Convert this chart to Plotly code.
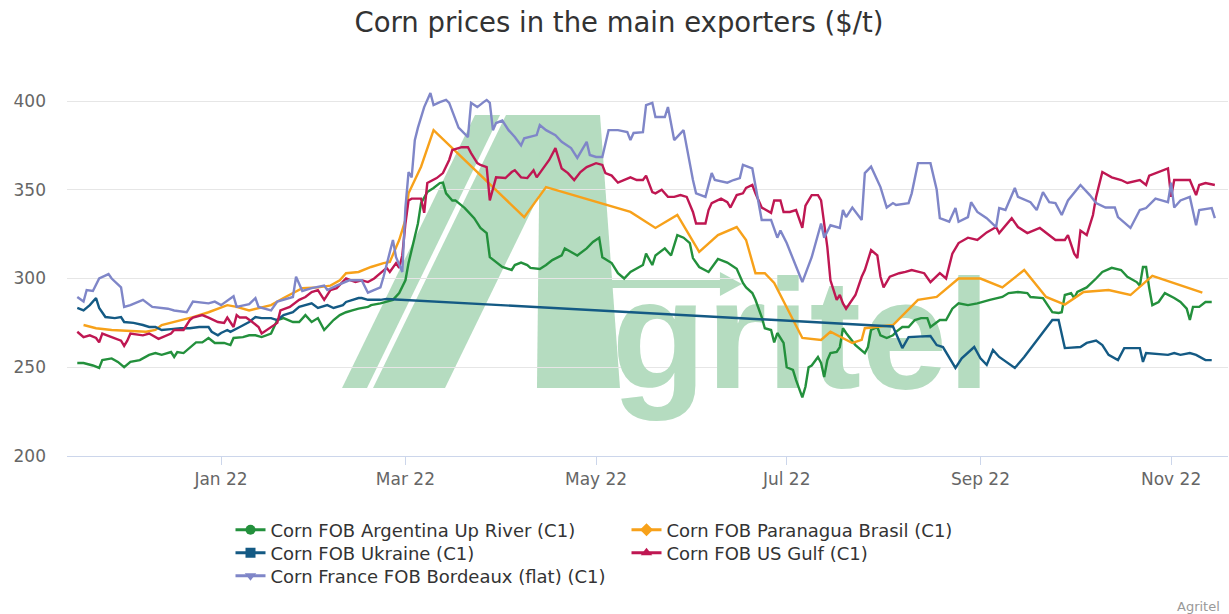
import plotly.graph_objects as go

# ---------------- data ----------------
arg_dates = ["2021-11-16","2021-11-18","2021-11-21","2021-11-23","2021-11-24","2021-11-27","2021-11-29","2021-12-01","2021-12-03","2021-12-06",
"2021-12-09","2021-12-11","2021-12-13","2021-12-16","2021-12-17","2021-12-18","2021-12-20","2021-12-23","2021-12-24","2021-12-26",
"2021-12-28","2021-12-30","2022-01-02","2022-01-04","2022-01-05","2022-01-08","2022-01-10","2022-01-12","2022-01-14","2022-01-17",
"2022-01-18","2022-01-19","2022-01-21","2022-01-24","2022-01-26","2022-01-28","2022-01-30","2022-02-01","2022-02-03","2022-02-04",
"2022-02-06","2022-02-08","2022-02-10","2022-02-12","2022-02-14","2022-02-17","2022-02-18","2022-02-21","2022-02-23","2022-02-25",
"2022-02-27","2022-03-01","2022-03-02","2022-03-03","2022-03-05","2022-03-06","2022-03-08","2022-03-10","2022-03-12","2022-03-13",
"2022-03-14","2022-03-16","2022-03-17","2022-03-20","2022-03-23","2022-03-25","2022-03-27","2022-03-28","2022-03-30","2022-04-01",
"2022-04-04","2022-04-05","2022-04-07","2022-04-09","2022-04-10","2022-04-13","2022-04-15","2022-04-17","2022-04-20","2022-04-21",
"2022-04-24","2022-04-25","2022-04-28","2022-04-30","2022-05-02","2022-05-03","2022-05-06","2022-05-08","2022-05-10","2022-05-12",
"2022-05-16","2022-05-17","2022-05-19","2022-05-20","2022-05-23","2022-05-25","2022-05-27","2022-05-29","2022-05-31","2022-06-01",
"2022-06-03","2022-06-06","2022-06-09","2022-06-12","2022-06-15","2022-06-17","2022-06-18","2022-06-20","2022-06-21","2022-06-23",
"2022-06-24","2022-06-26","2022-06-27","2022-06-28","2022-06-30","2022-07-01","2022-07-03","2022-07-04","2022-07-06","2022-07-07",
"2022-07-08","2022-07-09","2022-07-11","2022-07-12","2022-07-13","2022-07-14","2022-07-15","2022-07-17","2022-07-18","2022-07-19",
"2022-07-20","2022-07-22","2022-07-23","2022-07-26","2022-07-27","2022-07-28","2022-07-30","2022-07-31","2022-08-02","2022-08-04",
"2022-08-05","2022-08-07","2022-08-09","2022-08-11","2022-08-13","2022-08-15","2022-08-16","2022-08-19","2022-08-21","2022-08-23",
"2022-08-25","2022-08-28","2022-08-31","2022-09-04","2022-09-08","2022-09-10","2022-09-13","2022-09-16","2022-09-17","2022-09-21",
"2022-09-23","2022-09-24","2022-09-26","2022-09-27","2022-09-28","2022-09-30","2022-10-01","2022-10-02","2022-10-05","2022-10-07",
"2022-10-08","2022-10-10","2022-10-13","2022-10-16","2022-10-18","2022-10-21","2022-10-22","2022-10-23","2022-10-24","2022-10-25",
"2022-10-26","2022-10-28","2022-10-30","2022-11-02","2022-11-04","2022-11-06","2022-11-07","2022-11-08","2022-11-10","2022-11-12",
"2022-11-14"]
arg_values = [252.4,252.4,251,249.6,254,255,253,250,253,254,
257,258,257,258.6,255.8,258.6,258,262.5,264,264,
266.5,263.7,263.7,262.5,266.5,267,268,268,267,269,
272.7,276.6,277.7,275.5,275.5,279.4,275.5,277.7,271,272.7,
276.6,279.4,281,282,283,284,285,286,286.8,288,
291.8,299,308.7,316,331,342.5,348.7,351,353.8,354,
348,344,344,339.7,334,328.5,325.6,312,309,306.5,
304.8,307.6,309,307.6,306,305.4,307.6,310.4,313,317,
314,313,317,320.6,323,312,308.7,303,300,303.7,
307.6,314,307.6,313,317,313,324.5,323,320,311.5,
306.5,303.7,311,309,305.5,297.5,295,291.8,288,278.3,
272,271,264,269.3,263.7,250,248.5,242.8,233,239,
250,251,255.8,252.4,244.5,254,258,258.6,261.4,272,
269.3,265,262.5,258,261.4,271,272.7,268,266.5,268,
270,272.7,272.7,276.6,277.7,277.7,272.7,276.6,276.6,283,
286,285,286,288,289.6,291.8,292.4,291.8,289.6,289,
284,281,280.6,281,290.7,291.8,289,292.4,295,298,
300,303.7,306,304.8,301,298,296,306.5,306.5,294.6,
285,286.8,291.8,289,286.8,283,276.6,284,284,286.8,
286.8]

bra_dates = ["2021-11-18","2021-11-22","2021-11-27","2021-12-02","2021-12-08","2021-12-11","2021-12-13","2021-12-23","2021-12-28","2022-01-03",
"2022-01-06","2022-01-10","2022-01-13","2022-01-17","2022-01-21","2022-01-24","2022-01-27","2022-02-01","2022-02-05","2022-02-08",
"2022-02-10","2022-02-14","2022-02-18","2022-02-22","2022-02-24","2022-02-27","2022-03-01","2022-03-02","2022-03-06","2022-03-10",
"2022-04-08","2022-04-15","2022-05-12","2022-05-20","2022-05-27","2022-06-03","2022-06-09","2022-06-15","2022-06-18","2022-06-21",
"2022-06-24","2022-06-27","2022-07-06","2022-07-12","2022-07-15","2022-07-22","2022-07-25","2022-07-26","2022-08-04","2022-08-12",
"2022-08-18","2022-08-25","2022-09-01","2022-09-08","2022-09-15","2022-09-22","2022-09-28","2022-10-04","2022-10-12","2022-10-19",
"2022-10-26","2022-11-11"]
bra_values = [273.8,272,271,270.4,270,271,273.8,278.3,281,285,
284,282,283.4,285,289,291.8,294.6,295,296,299,
303,303.7,306.5,308.7,309.3,321.7,333,348,363,383.6,
334.6,351.5,337.5,328.5,335.8,315,324.5,329,321.7,303,
303,297.5,266.5,265.4,270,263.7,265.4,272,273.8,288,
289.6,300,300,295,304.8,289.6,285.3,292.4,293.5,290.7,
301.5,292]

ukr_dates = ["2021-11-16","2021-11-18","2021-11-20","2021-11-22","2021-11-23","2021-11-25","2021-11-28","2021-11-30","2021-12-01","2021-12-04",
"2021-12-07","2021-12-09","2021-12-11","2021-12-13","2021-12-16","2021-12-19","2021-12-22","2021-12-25","2021-12-28","2021-12-29",
"2021-12-31","2022-01-01","2022-01-03","2022-01-04","2022-01-07","2022-01-10","2022-01-12","2022-01-14","2022-01-17","2022-01-19",
"2022-01-21","2022-01-24","2022-01-26","2022-01-28","2022-01-30","2022-02-01","2022-02-04","2022-02-06","2022-02-09","2022-02-10",
"2022-02-12","2022-02-14","2022-02-15","2022-02-17","2022-02-21","2022-02-23","2022-08-04","2022-08-07","2022-08-09","2022-08-16",
"2022-08-18","2022-08-20","2022-08-24","2022-08-26","2022-08-30","2022-09-01","2022-09-03","2022-09-05","2022-09-07","2022-09-12",
"2022-09-15","2022-09-24","2022-09-26","2022-09-28","2022-10-03","2022-10-05","2022-10-08","2022-10-10","2022-10-12","2022-10-15",
"2022-10-17","2022-10-22","2022-10-23","2022-10-24","2022-10-31","2022-11-02","2022-11-04","2022-11-07","2022-11-09","2022-11-12",
"2022-11-14"]
ukr_values = [283.4,282,285,289,283.4,278.3,277.7,278.3,275.5,275,
273.8,272.7,272.7,271,271.5,272,272,272.7,272.7,270,
268,269.3,271,270,272.7,275.5,278.3,277.7,277.7,276.6,
279.4,281,284,285,286,283.4,285,283.4,285,286.8,
288,289,289,288,288,288.5,273,260.8,267,267.6,
262.5,261.4,249.6,255,261.4,255,251.3,259.7,255.8,249.6,
255.8,276.6,276.6,260.8,261.4,263.7,265,262.5,257,254,
260.8,260.8,253,258,257,258,257,258,257,254,
254]

usg_dates = ["2021-11-16","2021-11-18","2021-11-20","2021-11-22","2021-11-23","2021-11-24","2021-11-27","2021-11-30","2021-12-01","2021-12-02",
"2021-12-03","2021-12-07","2021-12-09","2021-12-12","2021-12-16","2021-12-17","2021-12-20","2021-12-22","2021-12-23","2021-12-26",
"2021-12-28","2021-12-31","2022-01-02","2022-01-03","2022-01-05","2022-01-06","2022-01-07","2022-01-09","2022-01-11","2022-01-13",
"2022-01-14","2022-01-17","2022-01-19","2022-01-20","2022-01-23","2022-01-26","2022-01-28","2022-01-30","2022-02-01","2022-02-03",
"2022-02-05","2022-02-07","2022-02-09","2022-02-10","2022-02-13","2022-02-15","2022-02-17","2022-02-19","2022-02-21","2022-02-23",
"2022-02-24","2022-02-26","2022-02-27","2022-02-28","2022-03-01","2022-03-02","2022-03-03","2022-03-06","2022-03-07","2022-03-08",
"2022-03-11","2022-03-13","2022-03-15","2022-03-16","2022-03-19","2022-03-21","2022-03-22","2022-03-24","2022-03-25","2022-03-27",
"2022-03-28","2022-03-30","2022-04-02","2022-04-04","2022-04-05","2022-04-07","2022-04-09","2022-04-11","2022-04-12","2022-04-14",
"2022-04-16","2022-04-18","2022-04-20","2022-04-22","2022-04-24","2022-04-26","2022-04-28","2022-05-01","2022-05-03","2022-05-04",
"2022-05-06","2022-05-08","2022-05-11","2022-05-12","2022-05-14","2022-05-16","2022-05-17","2022-05-19","2022-05-20","2022-05-22",
"2022-05-24","2022-05-26","2022-05-28","2022-05-30","2022-06-01","2022-06-02","2022-06-05","2022-06-06","2022-06-07","2022-06-10",
"2022-06-12","2022-06-13","2022-06-15","2022-06-17","2022-06-18","2022-06-20","2022-06-21","2022-06-23","2022-06-26","2022-06-27",
"2022-06-29","2022-06-30","2022-07-02","2022-07-04","2022-07-06","2022-07-07","2022-07-09","2022-07-11","2022-07-12","2022-07-14",
"2022-07-15","2022-07-17","2022-07-18","2022-07-19","2022-07-20","2022-07-22","2022-07-23","2022-07-25","2022-07-26","2022-07-28",
"2022-07-30","2022-07-31","2022-08-01","2022-08-03","2022-08-06","2022-08-08","2022-08-10","2022-08-14","2022-08-16","2022-08-19",
"2022-08-21","2022-08-23","2022-08-25","2022-08-28","2022-08-31","2022-09-03","2022-09-06","2022-09-07","2022-09-11","2022-09-13",
"2022-09-16","2022-09-20","2022-09-22","2022-09-25","2022-09-28","2022-09-29","2022-10-01","2022-10-02","2022-10-03","2022-10-05",
"2022-10-07","2022-10-08","2022-10-10","2022-10-13","2022-10-16","2022-10-18","2022-10-22","2022-10-24","2022-10-25","2022-10-27",
"2022-10-29","2022-10-31","2022-11-01","2022-11-02","2022-11-07","2022-11-09","2022-11-10","2022-11-12","2022-11-15"]
usg_values = [270,267,268,266.5,264,269,267,265,262,265,
269,268,269,266,269,271,271,276.6,278,279.4,
278,275.5,275,278,272.7,279.4,278,278,275.5,272.7,
269,272.7,275,282,284,288,289.6,292.4,293.5,288,
293.5,294.6,298,300,298,299,298,300,303,306,
303.7,308.7,306,313,331,344,345,345,337,353.8,
356.6,359.4,366.8,372.4,374,374,370.7,365,364,362.8,
344,357,356.6,360,361,357,356.6,361,357,362,
366.8,373.5,362,359.4,355.5,360,362.8,365,364,359.4,
358,354,356.6,357,355.5,355.5,358,348.7,348,350,
346,346,347,346,337.5,331,331,338.6,342.5,345,
343,340,347,348,351,352.7,348,340,337,344,
344,337.5,337.5,338.6,328.5,341,347,347,344,317.7,
299,288,290.7,286,283,288,290.7,301,304.8,316,
313,301,295,301,303,303.7,304.8,303,298,303,
300,314,320,323,321.7,326,329,325.6,334,329,
325.6,328.5,325.6,321.7,321.7,324.5,314,311.5,327,324.5,
335.8,346,360,357,355.5,353.8,355.5,352.7,358,359.4,
361,362,346,355.5,355.5,347,352.7,353.8,352.7]

fra_dates = ["2021-11-16","2021-11-18","2021-11-19","2021-11-21","2021-11-23","2021-11-26","2021-11-27","2021-11-30","2021-12-01","2021-12-03",
"2021-12-07","2021-12-09","2021-12-10","2021-12-15","2021-12-17","2021-12-21","2021-12-23","2021-12-28","2021-12-30","2022-01-01",
"2022-01-05","2022-01-06","2022-01-10","2022-01-12","2022-01-13","2022-01-17","2022-01-19","2022-01-24","2022-01-25","2022-01-27",
"2022-01-30","2022-02-03","2022-02-04","2022-02-07","2022-02-11","2022-02-15","2022-02-17","2022-02-21","2022-02-22","2022-02-25",
"2022-02-26","2022-02-28","2022-03-01","2022-03-02","2022-03-03","2022-03-04","2022-03-05","2022-03-07","2022-03-08","2022-03-09",
"2022-03-10","2022-03-12","2022-03-14","2022-03-15","2022-03-18","2022-03-21","2022-03-22","2022-03-24","2022-03-26","2022-03-27",
"2022-03-28","2022-03-29","2022-03-30","2022-04-01","2022-04-03","2022-04-05","2022-04-07","2022-04-08","2022-04-12","2022-04-13",
"2022-04-15","2022-04-18","2022-04-20","2022-04-23","2022-04-25","2022-04-28","2022-04-29","2022-05-01","2022-05-03","2022-05-05",
"2022-05-08","2022-05-11","2022-05-12","2022-05-13","2022-05-16","2022-05-17","2022-05-19","2022-05-20","2022-05-23","2022-05-24",
"2022-05-26","2022-05-28","2022-05-29","2022-06-01","2022-06-02","2022-06-05","2022-06-07","2022-06-08","2022-06-12","2022-06-14",
"2022-06-16","2022-06-17","2022-06-20","2022-06-23","2022-06-26","2022-06-28","2022-06-29","2022-07-01","2022-07-04","2022-07-06",
"2022-07-09","2022-07-12","2022-07-13","2022-07-15","2022-07-18","2022-07-19","2022-07-20","2022-07-22","2022-07-25","2022-07-26",
"2022-07-28","2022-07-31","2022-08-02","2022-08-04","2022-08-05","2022-08-09","2022-08-10","2022-08-12","2022-08-16","2022-08-18",
"2022-08-19","2022-08-22","2022-08-24","2022-08-25","2022-08-28","2022-08-29","2022-08-31","2022-09-03","2022-09-06","2022-09-07",
"2022-09-09","2022-09-12","2022-09-13","2022-09-16","2022-09-17","2022-09-19","2022-09-21","2022-09-23","2022-09-25","2022-09-27",
"2022-09-29","2022-10-03","2022-10-06","2022-10-08","2022-10-11","2022-10-14","2022-10-15","2022-10-19","2022-10-22","2022-10-24",
"2022-10-27","2022-10-29","2022-10-31","2022-11-01","2022-11-02","2022-11-04","2022-11-07","2022-11-09","2022-11-10","2022-11-14",
"2022-11-15"]
fra_values = [289.6,287,293.5,293,300,302.5,300,295,284,285,
288,285,284,283,282,281,287,286,287,285,
290,284,285.6,289,284,282,287,289.6,301,293,
294.6,296,293.5,296,299,299,292,295,301,321.7,
312,303.7,340,360,357,378,385,396.6,400.6,404.5,
397.7,399.4,400.6,399,385,379.7,399,396.6,399.4,400.6,
399,383.6,387.6,389,383.6,379.7,375,379,380.8,386.5,
383.6,380.8,377,373.5,368,377,369.6,368.5,368.5,383.6,
383.6,382.5,378,382,382.5,397.7,399,391,391,396.6,
378,382,383.6,355.5,348,346,359.4,355.5,354,355.5,
356.6,364,362,333,333,323,327,320,306.5,298,
312,331,323,330,328.5,338.6,334.6,340,333,359.4,
363,351.5,340,342.5,341.4,342.5,348,365,365,350,
334,332,339.7,332,334.6,343,337.5,334,329,339.7,
338.6,351,346,344,343,338.6,348.7,343,342.5,335.8,
344,352.7,347,342.5,340,340,334.6,328.5,338.6,339.7,
345,344,343,354,340,344,346,330,338.6,339.7,
334]

series_names = ["Corn FOB Argentina Up River (C1)", "Corn FOB Paranagua Brasil (C1)",
                "Corn FOB Ukraine (C1)", "Corn FOB US Gulf (C1)",
                "Corn France FOB Bordeaux (flat) (C1)"]
series_dates = [arg_dates, bra_dates, ukr_dates, usg_dates, fra_dates]
series_values = [arg_values, bra_values, ukr_values, usg_values, fra_values]
y_ticks = [200, 250, 300, 350, 400]

# ---------------- style ----------------
colors = ["#23903c", "#f7a11a", "#145a84", "#bf1752", "#7f86c8"]
symbols = ["circle", "diamond", "square", "triangle-up", "triangle-down"]
legend_rows = ["legend", "legend", "legend2", "legend2", "legend3"]
WM = "#b5dcc0"
FONT = "DejaVu Sans"

W, H = 1229, 614
ML, MR, MT, MB = 67, 1, 62, 158
PW, PH = W - ML - MR, H - MT - MB


def P(px, py):
    return ((px - ML) / PW, (H - MB - py) / PH)


def path(points):
    pts = [P(x, y) for x, y in points]
    return "M " + " L ".join(f"{a:.4f},{b:.4f}" for a, b in pts) + " Z"


fig = go.Figure()

# watermark word (decoration axes x/y, drawn beneath the data)
gx, gy = P(801, 349)
fig.add_trace(go.Scatter(x=[gx], y=[gy], mode="text", text=["gritel"],
                         textposition="middle center",
                         textfont=dict(family="Liberation Sans", size=155, color=WM, weight="bold"),
                         hoverinfo="skip", showlegend=False, xaxis="x", yaxis="y"))

for name, d, v, c, s, lg in zip(series_names, series_dates, series_values, colors, symbols, legend_rows):
    fig.add_trace(go.Scatter(x=d, y=v, mode="lines", name=name, legendgroup=name,
                             line=dict(color=c, width=2.4), showlegend=False,
                             xaxis="x2", yaxis="y2"))
    fig.add_trace(go.Scatter(x=[None], y=[None], mode="lines+markers", name=name,
                             legendgroup=name, legend=lg, line=dict(color=c, width=3),
                             marker=dict(symbol=s, size=10, color=c),
                             xaxis="x2", yaxis="y2"))

shapes = []
for poly in [
    [(342, 388), (367, 388), (500, 115), (475, 115)],
    [(373, 388), (445, 388), (578, 115), (506, 115)],
    [(540, 115), (600, 115), (620, 388), (537, 388)],
    [(600, 280), (726, 280), (726, 288), (600, 288)],
    [(720, 272), (742, 284), (720, 296)],
]:
    shapes.append(dict(type="path", path=path(poly), xref="x", yref="y",
                       fillcolor=WM, line=dict(width=0), layer="below"))

leg_common = dict(orientation="h", x=P(230.5, 0)[0], xanchor="left", yanchor="top",
                  entrywidth=351, font=dict(size=18, color="#333333"),
                  bgcolor="rgba(0,0,0,0)", traceorder="normal", itemwidth=30)

fig.update_layout(
    width=W, height=H,
    margin=dict(l=ML, r=MR, t=MT, b=MB),
    paper_bgcolor="white", plot_bgcolor="white",
    font=dict(family=FONT, color="#666666"),
    title=dict(text="Corn prices in the main exporters ($/t)", x=0.5037, xanchor="center",
               y=1 - 22 / H, yanchor="middle", yref="container",
               font=dict(family=FONT, size=27.5, color="#333333")),
    xaxis=dict(range=[0, 1], visible=False, fixedrange=True),
    yaxis=dict(range=[0, 1], visible=False, fixedrange=True),
    xaxis2=dict(overlaying="x", anchor="y2", type="date",
                range=["2021-11-12 17:00", "2022-11-19 05:00"],
                tick0="2022-01-01", dtick="M2", tickformat="%b %y",
                showgrid=False, showline=True, linecolor="#ccd6eb", linewidth=1,
                ticks="outside", ticklen=8, tickcolor="#ccd6eb",
                tickfont=dict(size=17, color="#666666"), zeroline=False),
    yaxis2=dict(overlaying="y", anchor="x2", side="left", range=[200, 422],
                tickvals=y_ticks, showgrid=True, gridcolor="#e6e6e6", gridwidth=1,
                showline=False, zeroline=False, ticks="", ticklabelstandoff=20,
                tickfont=dict(size=17, color="#666666")),
    legend=dict(y=P(0, 511.5)[1], **leg_common),
    legend2=dict(y=P(0, 534.5)[1], **leg_common),
    legend3=dict(y=P(0, 557.5)[1], **leg_common),
    shapes=shapes,
    annotations=[dict(text="Agritel", xref="paper", yref="paper",
                      x=(1222 - ML) / PW, y=(H - MB - 606) / PH,
                      xanchor="right", yanchor="middle", showarrow=False,
                      font=dict(size=13, color="#999999"))],
    showlegend=True,
)

fig.write_html("out.html", config={"displayModeBar": False},
               post_script="document.body.style.margin='0';document.body.style.padding='0';")
